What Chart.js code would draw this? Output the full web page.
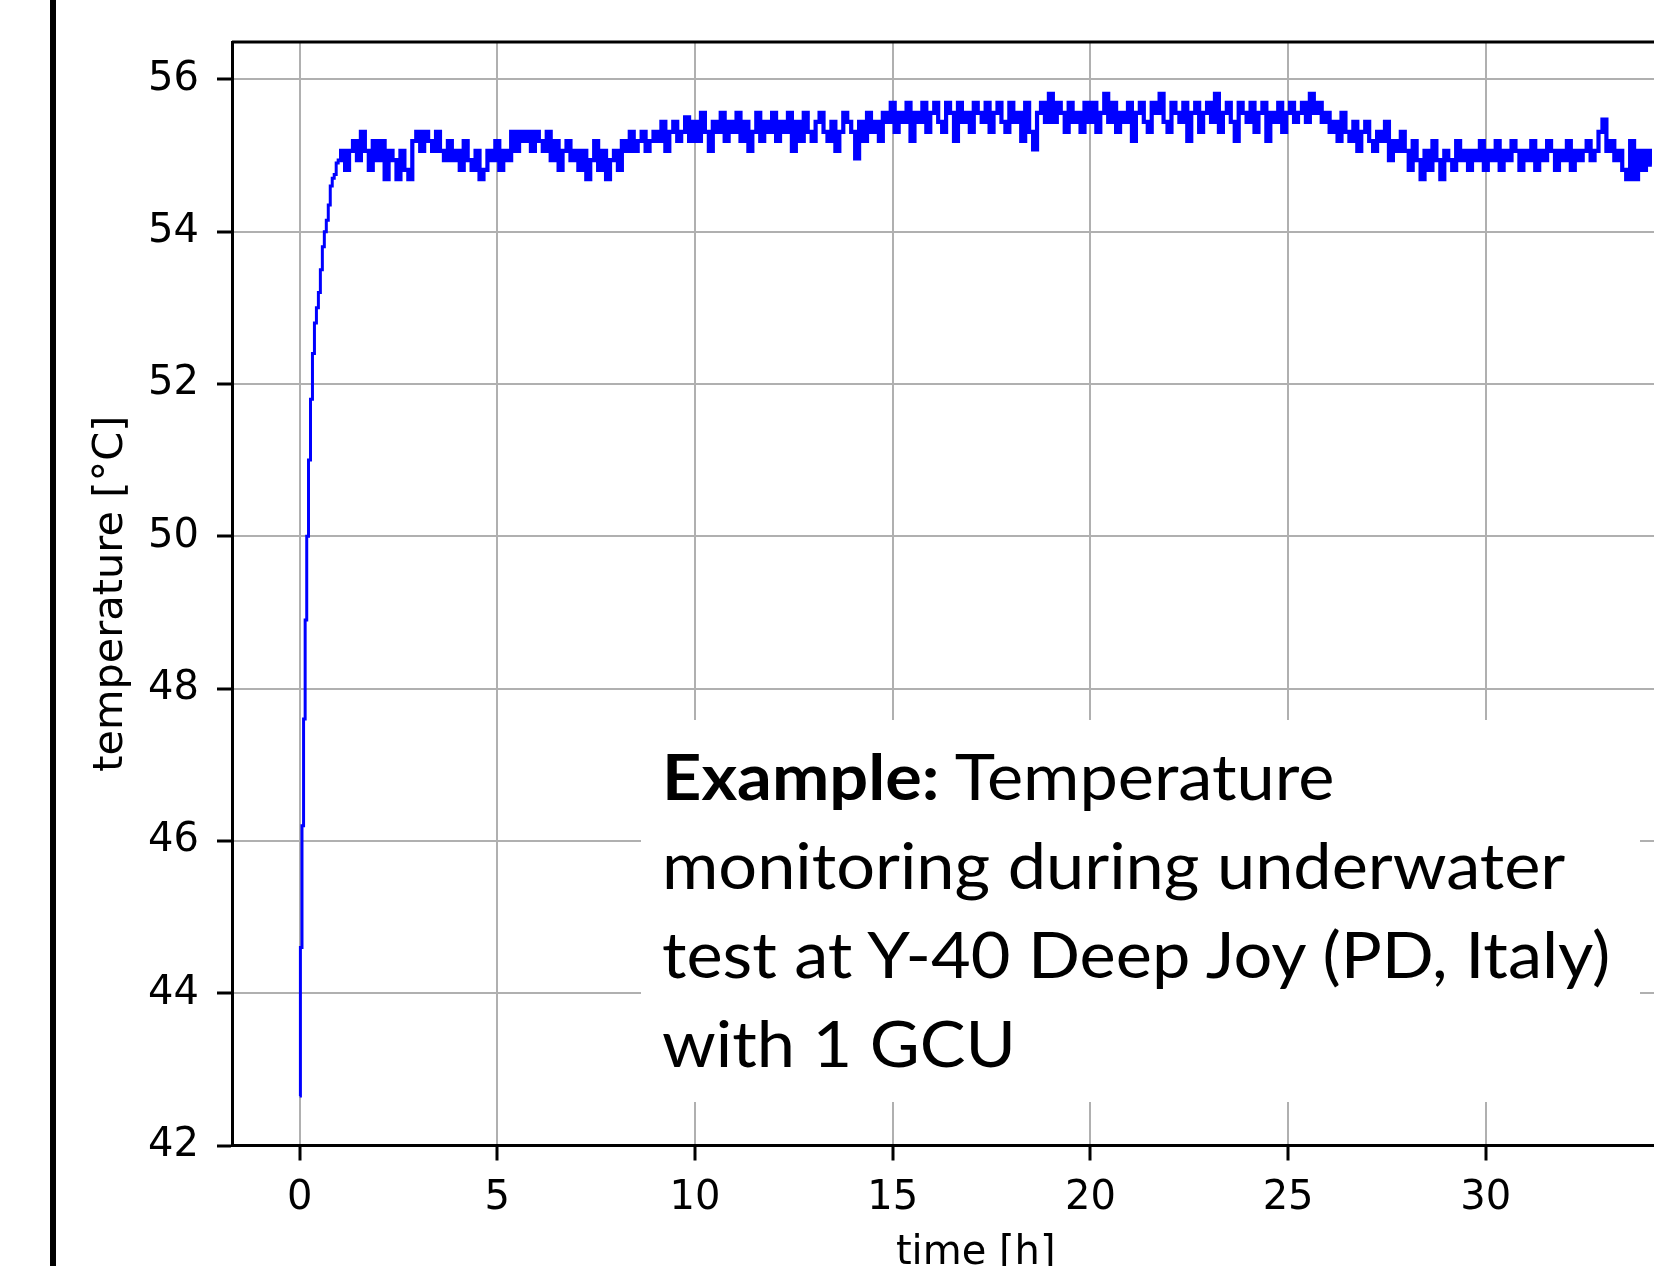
<!DOCTYPE html>
<html>
<head>
<meta charset="utf-8">
<script src="https://cdn.jsdelivr.net/npm/chart.js@4.4.1/dist/chart.umd.min.js"></script>
<style>
  html, body { margin: 0; padding: 0; background: #fff; overflow: hidden; }
  #wrap { position: relative; width: 1654px; height: 1266px; overflow: hidden; }
  #bar { position: absolute; left: 50px; top: 0; width: 6px; height: 1266px; background: #000; }
  #note {
    position: absolute; left: 641px; top: 720px; width: 999px; height: 382px;
    background: #fff; box-sizing: border-box; padding: 11px 0 0 21px;
    font-family: Lato, "Open Sans", sans-serif; font-size: 64px; line-height: 89px; color: #000;
    white-space: nowrap;
  }
  #note div { transform: scaleX(1.07); transform-origin: left top; }
</style>
</head>
<body>
<div id="wrap">
  <canvas id="mycanvas" width="1760" height="1266"></canvas>
  <div id="bar"></div>
  <div id="note"><div><b>Example:</b> Temperature<br>monitoring during underwater<br>test at Y-40 Deep Joy (PD, Italy)<br>with 1 GCU</div></div>
</div>
<script>
// warm-up phase (hours, degC)
var riseTimes = [0, 0.04, 0.08, 0.12, 0.16, 0.2, 0.25, 0.3, 0.35, 0.4, 0.45, 0.5, 0.55, 0.6, 0.65, 0.7, 0.75, 0.8, 0.85, 0.9, 0.95, 1.0];
var riseTemps = [42.65, 44.6, 46.2, 47.6, 48.9, 50.0, 51.0, 51.8, 52.4, 52.8, 53.0, 53.2, 53.5, 53.8, 54.0, 54.15, 54.35, 54.6, 54.7, 54.75, 54.9, 54.94];

// steady readings, one every 0.1 h from 1.0 h
var plateauStart = 1.0;
var sampleStep = 0.1;
var plateauTemps = [
  54.94, 55.06, 54.81, 55.06, 55.19, 54.94, 55.31, 55.06, 54.81, 55.19, // 1 h
  54.94, 55.19, 54.69, 55.06, 54.94, 54.69, 55.06, 54.81, 54.69, 55.19, // 2 h
  55.31, 55.06, 55.31, 55.19, 55.06, 55.31, 55.06, 54.94, 55.19, 54.94, // 3 h
  55.06, 54.81, 55.19, 54.94, 54.81, 55.06, 54.69, 54.81, 55.06, 54.94, // 4 h
  55.19, 54.81, 55.06, 54.94, 55.31, 55.06, 55.31, 55.19, 55.31, 55.06, // 5 h
  55.31, 55.19, 55.06, 55.31, 54.94, 55.19, 54.81, 55.06, 55.19, 54.94, // 6 h
  55.06, 54.81, 55.06, 54.69, 54.94, 55.19, 54.81, 55.06, 54.69, 54.94, // 7 h
  55.06, 54.81, 55.19, 55.06, 55.31, 55.06, 55.19, 55.31, 55.06, 55.19, // 8 h
  55.31, 55.19, 55.44, 55.06, 55.31, 55.44, 55.19, 55.31, 55.50, 55.19, // 9 h
  55.44, 55.19, 55.56, 55.31, 55.06, 55.44, 55.31, 55.56, 55.19, 55.44, // 10 h
  55.31, 55.56, 55.19, 55.44, 55.06, 55.31, 55.56, 55.19, 55.44, 55.31, // 11 h
  55.56, 55.19, 55.44, 55.31, 55.56, 55.06, 55.44, 55.19, 55.56, 55.31, // 12 h
  55.19, 55.44, 55.56, 55.31, 55.19, 55.44, 55.06, 55.31, 55.56, 55.44, // 13 h
  55.31, 54.96, 55.44, 55.19, 55.56, 55.31, 55.44, 55.19, 55.56, 55.44, // 14 h
  55.69, 55.31, 55.56, 55.44, 55.69, 55.19, 55.56, 55.44, 55.69, 55.31, // 15 h
  55.56, 55.69, 55.44, 55.31, 55.69, 55.56, 55.19, 55.69, 55.44, 55.56, // 16 h
  55.31, 55.69, 55.56, 55.44, 55.69, 55.31, 55.56, 55.69, 55.44, 55.31, // 17 h
  55.69, 55.44, 55.56, 55.19, 55.69, 55.31, 55.08, 55.56, 55.69, 55.44, // 18 h
  55.81, 55.44, 55.69, 55.56, 55.31, 55.69, 55.44, 55.56, 55.31, 55.69, // 19 h
  55.44, 55.69, 55.31, 55.56, 55.81, 55.44, 55.69, 55.31, 55.56, 55.44, // 20 h
  55.69, 55.19, 55.56, 55.69, 55.44, 55.31, 55.69, 55.56, 55.81, 55.44, // 21 h
  55.31, 55.69, 55.56, 55.44, 55.69, 55.19, 55.56, 55.69, 55.31, 55.56, // 22 h
  55.69, 55.44, 55.81, 55.31, 55.56, 55.69, 55.44, 55.19, 55.69, 55.56, // 23 h
  55.44, 55.69, 55.31, 55.56, 55.69, 55.19, 55.56, 55.44, 55.69, 55.31, // 24 h
  55.56, 55.69, 55.44, 55.56, 55.69, 55.44, 55.81, 55.56, 55.69, 55.44, // 25 h
  55.56, 55.31, 55.44, 55.19, 55.56, 55.31, 55.19, 55.44, 55.06, 55.31, // 26 h
  55.44, 55.19, 55.06, 55.31, 55.19, 55.44, 54.94, 55.19, 55.06, 55.31, // 27 h
  55.06, 54.81, 55.19, 54.94, 54.69, 55.06, 54.81, 55.19, 54.94, 54.69, // 28 h
  55.06, 54.94, 54.81, 55.19, 54.94, 55.06, 54.81, 55.06, 54.94, 55.19, // 29 h
  54.81, 55.06, 54.94, 55.19, 54.81, 55.06, 54.94, 55.19, 55.06, 54.81, // 30 h
  55.06, 54.94, 55.19, 54.81, 55.06, 54.94, 55.19, 55.06, 54.81, 55.06, // 31 h
  54.94, 55.19, 54.81, 55.06, 54.94, 55.06, 55.19, 54.94, 55.06, 55.31, // 32 h
  55.47, 55.06, 55.19, 54.94, 55.06, 54.81, 54.69, 55.19, 54.69, 55.06, // 33 h
  54.81, 55.06, 54.88                                                    // 34 h
];

var fontFamily = "'DejaVu Sans', sans-serif";

var risePoints = [];
for (var i in riseTimes) {
  risePoints.push({x: riseTimes[i], y: riseTemps[i]});
}
var plateauPoints = [];
for (var j = 0; j < plateauTemps.length; j++) {
  plateauPoints.push({x: +(plateauStart + j * sampleStep).toFixed(2), y: plateauTemps[j]});
}

// top and right edge of the axes box
var frame = {
  id: 'frame',
  afterDatasetsDraw: function(chart) {
    var a = chart.chartArea, c = chart.ctx;
    c.save();
    c.strokeStyle = '#000';
    c.lineWidth = 3;
    c.beginPath();
    c.moveTo(a.left, a.top);
    c.lineTo(a.right, a.top);
    c.lineTo(a.right, a.bottom);
    c.stroke();
    c.restore();
  }
};

var ctx = document.getElementById('mycanvas');
var chart = new Chart(ctx, {
  type: 'line',
  data: {
    datasets: [
      {
        data: risePoints,
        borderColor: '#0000ff',
        borderWidth: 3,
        pointRadius: 0,
        fill: false,
        stepped: 'middle'
      },
      {
        data: plateauPoints,
        borderColor: '#0000ff',
        borderWidth: 4.2,
        pointRadius: 0,
        fill: false,
        stepped: 'middle'
      }
    ]
  },
  options: {
    responsive: false,
    animation: false,
    layout: { padding: { left: 0, top: 41, right: 40.5, bottom: 0 } },
    plugins: { legend: { display: false }, tooltip: { enabled: false } },
    scales: {
      x: {
        type: 'linear',
        min: -1.71,
        max: 35.91,
        ticks: { stepSize: 5, includeBounds: false, color: '#000', padding: 14,
                 font: { family: fontFamily, size: 40 } },
        grid: { color: '#b0b0b0', lineWidth: 2, tickColor: '#000', tickWidth: 3, tickLength: 15 },
        border: { color: '#000', width: 3 },
        title: { display: true, text: 'time [h]', color: '#000', padding: 0,
                 font: { family: fontFamily, size: 40, lineHeight: 0.6 } },
        afterFit: function(s) { s.height = 1266 - 1145.5; }
      },
      y: {
        min: 42,
        max: 56.49,
        ticks: { stepSize: 2, includeBounds: false, color: '#000', padding: 18,
                 font: { family: fontFamily, size: 40 } },
        grid: { color: '#b0b0b0', lineWidth: 2, tickColor: '#000', tickWidth: 3, tickLength: 15 },
        border: { color: '#000', width: 3 },
        title: { display: true, text: 'temperature [°C]', color: '#000', padding: { top: 86, bottom: 0 },
                 font: { family: fontFamily, size: 41.5 } },
        afterFit: function(s) { s.width = 232; }
      }
    }
  },
  plugins: [frame]
});
</script>
</body>
</html>
